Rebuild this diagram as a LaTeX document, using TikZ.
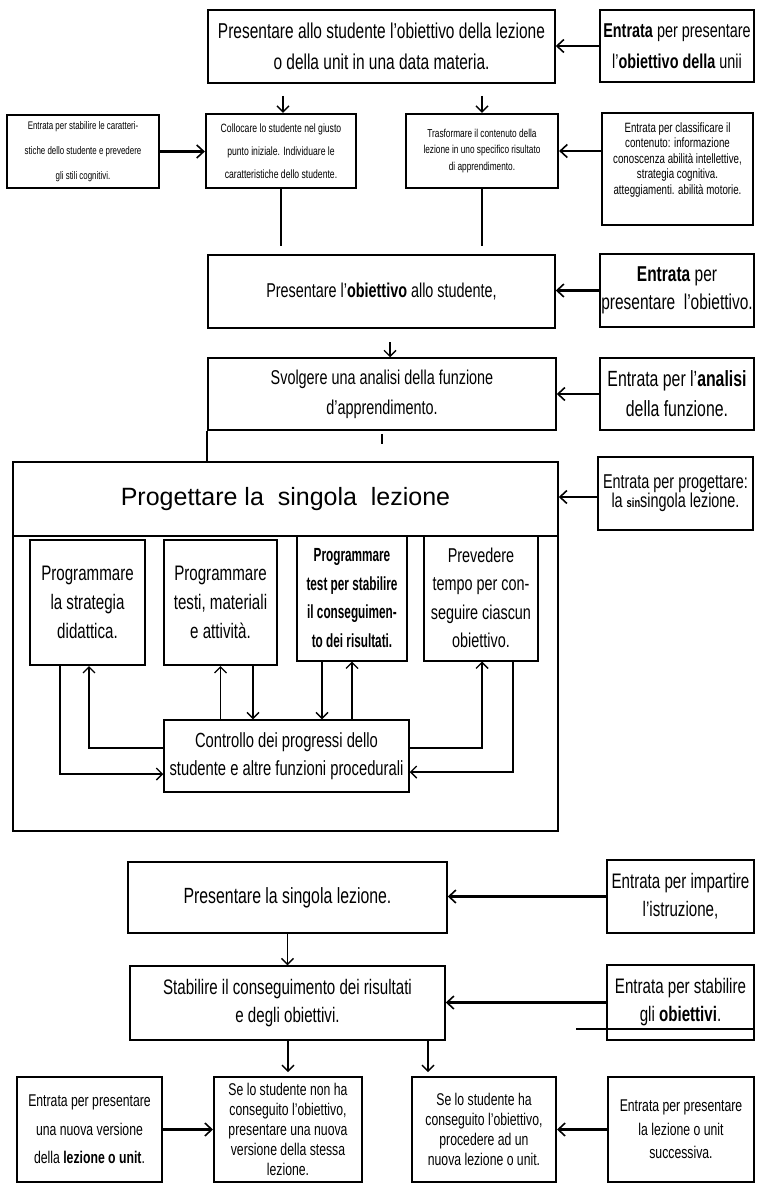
\documentclass[tikz,border=0pt]{standalone}
\usepackage{fontspec}
\setmainfont{Liberation Sans}[FakeStretch=0.72]
\newfontfamily\widefont{Liberation Sans}
\newfontfamily\narrowfont{Liberation Sans}[FakeStretch=0.62]
\usetikzlibrary{arrows.meta}
\newcommand\setfs[2]{\fontsize{#1}{#2}\selectfont}

\begin{document}
\begin{tikzpicture}[x=1pt,y=-1pt,
    box/.style={draw,line width=1.5pt,align=center,inner sep=0pt,font=\setfs{21}{30}},
    smallbox/.style={box,line width=2.2pt},
    innerbox/.style={box,line width=2pt,font=\setfs{21}{29}},
    endbox/.style={box,line width=2pt},
    wh/.style 2 args={minimum width=#1pt,minimum height=#2pt},
    feed/.style={-{Straight Barb[length=7pt,width=13pt,line width=1.6pt]},line width=2.6pt},
    down/.style={-{Straight Barb[length=6pt,width=12pt,line width=1.4pt]},line width=1.6pt},
    ctrl/.style={-{Straight Barb[length=6pt,width=12pt,line width=1.4pt]},line width=1.8pt},
    stub/.style={line width=1.8pt}
]
\useasboundingbox (0,0) rectangle (756,1185);

\node[box,wh={347}{73},font=\setfs{21.5}{31}] (obj) at (381.5,46.5) {Presentare allo studente l'obiettivo della lezione\\o della unit in una data materia.};
\node[box,wh={154}{72},font=\setfs{20}{31}] (inobj) at (677,46) {\textbf{Entrata} per presentare\\l'\textbf{obiettivo della} unii};

\node[smallbox,wh={152}{73},font=\setfs{11}{25}] (inchar) at (83,151.5) {Entrata per stabilire le caratteri-\\stiche dello studente e prevedere\\gli stili cognitivi.};
\node[smallbox,wh={150}{74},font=\setfs{12}{23}] (place) at (281,151) {Collocare lo studente nel giusto\\punto iniziale. Individuare le\\caratteristiche dello studente.};
\node[smallbox,wh={152}{74},font=\setfs{11.5}{16.5}] (transf) at (482,151) {Trasformare il contenuto della\\lezione in uno specifico risultato\\di apprendimento.};
\node[smallbox,wh={151}{112},font=\setfs{13.5}{15.5}] (inclass) at (677.5,169) {Entrata per classificare il\\contenuto: informazione\\conoscenza abilità intellettive,\\strategia cognitiva.\\atteggiamenti. abilità motorie.\\[6pt]};

\node[box,wh={347}{73},font=\setfs{20}{30}] (present) at (381.5,291.5) {Presentare l'\textbf{obiettivo} allo studente,};
\node[box,wh={154}{73},font=\setfs{21.5}{28}] (inpres) at (677,290.5) {\textbf{Entrata} per\\presentare\ \ l'obiettivo.};

\node[box,wh={348}{72},font=\setfs{20}{30}] (analysis) at (382,394) {Svolgere una analisi della funzione\\d'apprendimento.};
\node[box,wh={154}{72},font=\setfs{22}{30}] (inanal) at (677,394) {Entrata per l'\textbf{analisi}\\della funzione.};

\node[box,wh={545}{369}] (design) at (285.5,646.5) {};
\node[font=\widefont\setfs{25}{28}] (designtitle) at (285.5,499) {Progettare la\ \ singola\ \ lezione};
\node[box,wh={155}{73},font=\setfs{20}{19}] (indesign) at (675.5,493.5) {Entrata per progettare:\\la {\setfs{13}{19}\bfseries sin}singola lezione.};

\node[innerbox,wh={115}{125}] (strat) at (87.5,602.5) {Programmare\\la strategia\\didattica.};
\node[innerbox,wh={113}{125}] (mater) at (220.5,602.5) {Programmare\\testi, materiali\\e attività.};
\node[innerbox,wh={110}{125},font=\narrowfont\bfseries\setfs{19}{28.5}] (tests) at (352,598) {Programmare\\test per stabilire\\il conseguimen-\\to dei risultati.};
\node[innerbox,wh={114}{125},font=\setfs{20}{28.5}] (time) at (481,598) {Prevedere\\tempo per con-\\seguire ciascun\\obiettivo.};
\node[box,wh={245}{72},font=\setfs{20.5}{28}] (control) at (286.5,756) {Controllo dei progressi dello\\studente e altre funzioni procedurali};

\node[box,wh={319}{71},font=\setfs{22}{28}] (lesson) at (287.5,897.5) {Presentare la singola lezione.};
\node[box,wh={147}{73},font=\setfs{21}{28}] (inlesson) at (680.5,896.5) {Entrata per impartire\\l'istruzione,};
\node[box,wh={315}{74},font=\setfs{21}{28}] (check) at (287.5,1003) {Stabilire il conseguimento dei risultati\\e degli obiettivi.};
\node[box,wh={147}{75},font=\setfs{21}{28}] (incheck) at (680.5,1002.5) {Entrata per stabilire\\gli \textbf{obiettivi}.};

\node[endbox,wh={145}{105},font=\setfs{17}{28.5}] (innew) at (89.5,1129.5) {Entrata per presentare\\una nuova versione\\della \textbf{lezione o unit}.};
\node[endbox,wh={148}{105},font=\setfs{17}{20}] (fail) at (288,1129.5) {Se lo studente non ha\\conseguito l'obiettivo,\\presentare una nuova\\versione della stessa\\lezione.};
\node[endbox,wh={144}{105},font=\setfs{17}{20}] (pass) at (484,1129.5) {Se lo studente ha\\conseguito l'obiettivo,\\procedere ad un\\nuova lezione o unit.};
\node[endbox,wh={146}{105},font=\setfs{17}{23.5}] (innext) at (681,1129.5) {Entrata per presentare\\la lezione o unit\\successiva.};

\coordinate (placetop) at ([xshift=2pt]place.north);
\coordinate (analtop) at ([xshift=8pt]analysis.north);
\coordinate (strathi) at ([xshift=1.5pt]strat.south);
\coordinate (stratlo) at ([xshift=-27.5pt]strat.south);
\coordinate (materlo) at ([xshift=32.5pt]mater.south);
\coordinate (testslo) at ([xshift=-30pt]tests.south);
\coordinate (timehi) at ([xshift=1pt]time.south);
\coordinate (timelo) at ([xshift=32pt]time.south);
\coordinate (failtop) at ([yshift=4pt]fail.north);
\coordinate (passtop) at ([xshift=-56pt,yshift=4pt]pass.north);

\draw[feed] (inobj.west) -- (inobj.west -| obj.east);
\draw[down] ([yshift=17pt]placetop) -- (placetop);
\draw[down] ([yshift=17pt]transf.north) -- (transf.north);
\draw[feed] (inchar.east) -- (inchar.east -| place.west);
\draw[feed] (transf.east -| inclass.west) -- (transf.east);
\draw[stub] (place.south) -- ++(0,57);
\draw[stub] (transf.south) -- ++(0,57);
\draw[feed] (inpres.west) -- (inpres.west -| present.east);
\draw[down] ([yshift=15pt]analtop) -- (analtop);
\draw[feed] (inanal.west) -- (inanal.west -| analysis.east);
\draw[stub] (analysis.south west) -- (analysis.south west |- design.north);
\draw[stub] ([yshift=-3pt]analysis.south) -- ++(0,10);
\draw[feed] ([yshift=-3.5pt]indesign.west) -- ([yshift=-3.5pt]indesign.west -| design.east);
\draw[stub] ([yshift=-75pt]design.north west) -- ([yshift=-75pt]design.north east);

\draw[ctrl] (stratlo) |- ([yshift=-18pt]control.west);
\draw[ctrl] ([yshift=8pt]control.west) -| (strathi);
\draw[ctrl] (mater.south |- control.north) -- (mater.south);
\draw[ctrl] (materlo) -- (materlo |- control.north);
\draw[ctrl] (testslo) -- (testslo |- control.north);
\draw[ctrl] (tests.south |- control.north) -- (tests.south);
\draw[ctrl] ([yshift=8pt]control.east) -| (timehi);
\draw[ctrl] (timelo) |- ([yshift=-16pt]control.east);

\draw[feed] (inlesson.west) -- (inlesson.west -| lesson.east);
\draw[down] (lesson.south) -- (check.north);
\draw[feed] (incheck.west) -- (incheck.west -| check.east);
\draw[line width=1.4pt] (576,1029) -- (incheck.east |- 0,1029);
\draw[down] (failtop |- check.south) -- (failtop);
\draw[down] (passtop |- check.south) -- (passtop);
\draw[feed] (innew.east) -- (fail.west);
\draw[feed] (innext.west) -- (pass.east);
\end{tikzpicture}
\end{document}
